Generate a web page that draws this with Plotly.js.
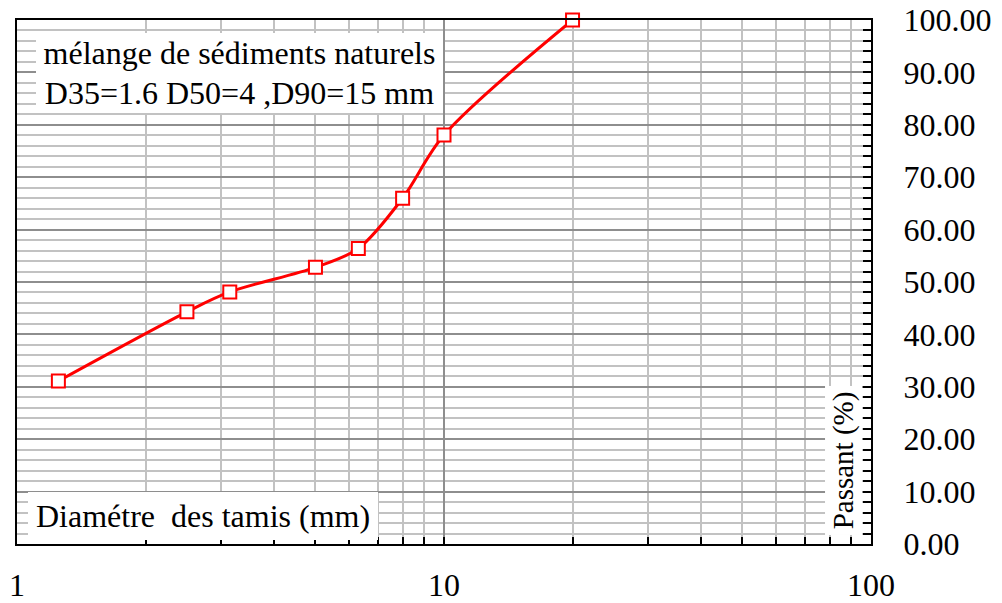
<!DOCTYPE html>
<html>
<head>
<meta charset="utf-8">
<script src="https://cdn.plot.ly/plotly-3.0.1.min.js"></script>
<style>html,body{margin:0;padding:0;background:#fff;}#chart{width:1002px;height:603px;}</style>
</head>
<body>
<div id="chart"></div>
<script>
// Sieve diameters (mm) and percent passing
const sieveSizes = [1.25, 2.5, 3.15, 5, 6.3, 8, 10, 20];
const passing = [31.1, 44.3, 48.1, 52.8, 56.4, 66.0, 78.05, 100];

const xMajorTicks = [1, 10, 100];
const xMinorTicks = [2, 3, 4, 5, 6, 7, 8, 9, 20, 30, 40, 50, 60, 70, 80, 90];

const infoLine1 = "mélange de sédiments naturels";
const infoLine2 = "D35=1.6 D50=4 ,D90=15 mm";
const xTitle = "Diamétre\u00a0 des tamis (mm)";
const yTitle = "Passant (%)";

const serif = "'Liberation Serif', 'Times New Roman', serif";
const majorGrid = "#8e8e8e";
const minorGrid = "#c2c2c2";

const trace = {
  x: sieveSizes,
  y: passing,
  type: "scatter",
  mode: "lines+markers",
  line: {color: "#ff0000", width: 3, shape: "spline", smoothing: 0.9},
  marker: {symbol: "square", size: 13, color: "#ffffff", line: {color: "#ff0000", width: 2}},
  hoverinfo: "skip",
  cliponaxis: false
};

const layout = {
  width: 1002,
  height: 603,
  margin: {l: 17, r: 131, t: 20, b: 59, pad: 0},
  paper_bgcolor: "#ffffff",
  plot_bgcolor: "#ffffff",
  showlegend: false,
  font: {family: serif, color: "#000000"},
  xaxis: {
    type: "log",
    range: [0, 2],
    tickmode: "array",
    tickvals: xMajorTicks,
    ticktext: xMajorTicks.map(String),
    ticks: "inside",
    ticklen: 7,
    tickwidth: 2,
    tickcolor: "#000000",
    ticklabelstandoff: 12,
    tickfont: {family: serif, size: 32, color: "#000000"},
    showgrid: true,
    gridcolor: majorGrid,
    gridwidth: 2,
    minor: {
      tickmode: "array",
      tickvals: xMinorTicks,
      ticks: "inside",
      ticklen: 7,
      tickwidth: 2,
      tickcolor: "#000000",
      showgrid: true,
      gridcolor: minorGrid,
      gridwidth: 2
    },
    showline: true,
    linecolor: "#000000",
    linewidth: 2,
    mirror: true,
    zeroline: false,
    fixedrange: true
  },
  yaxis: {
    side: "right",
    range: [0, 100],
    tickmode: "linear",
    tick0: 0,
    dtick: 10,
    tickformat: ".2f",
    ticks: "inside",
    ticklen: 8,
    tickwidth: 2,
    tickcolor: "#000000",
    ticklabelstandoff: 24,
    tickfont: {family: serif, size: 32, color: "#000000"},
    showgrid: true,
    gridcolor: majorGrid,
    gridwidth: 2,
    minor: {
      dtick: 2,
      ticks: "inside",
      ticklen: 8,
      tickwidth: 2,
      tickcolor: "#000000",
      showgrid: true,
      gridcolor: minorGrid,
      gridwidth: 2
    },
    showline: true,
    linecolor: "#000000",
    linewidth: 2,
    mirror: true,
    zeroline: false,
    fixedrange: true
  },
  annotations: [
    {
      text: infoLine1, xref: "paper", yref: "paper", x: 0.2606, y: 0.937,
      xanchor: "center", yanchor: "middle", showarrow: false,
      width: 407, height: 40, bgcolor: "#ffffff", borderpad: 0, borderwidth: 0,
      font: {family: serif, size: 32, color: "#000000"}
    },
    {
      text: infoLine2, xref: "paper", yref: "paper", x: 0.2606, y: 0.8607,
      xanchor: "center", yanchor: "middle", showarrow: false,
      width: 407, height: 40, bgcolor: "#ffffff", borderpad: 0, borderwidth: 0,
      font: {family: serif, size: 32, color: "#000000"}
    },
    {
      text: xTitle, xref: "paper", yref: "paper", x: 0.2178, y: 0.0534,
      xanchor: "center", yanchor: "middle", showarrow: false,
      width: 350, height: 48, bgcolor: "#ffffff", borderpad: 0, borderwidth: 0,
      font: {family: serif, size: 32, color: "#000000"}
    },
    {
      text: yTitle, xref: "paper", yref: "paper", x: 0.9678, y: 0.1594,
      xanchor: "center", yanchor: "middle", showarrow: false, textangle: -90,
      width: 149, height: 37, bgcolor: "#ffffff", borderpad: 0, borderwidth: 0,
      font: {family: serif, size: 29, color: "#000000"}
    }
  ]
};

Plotly.newPlot("chart", [trace], layout, {displayModeBar: false, staticPlot: true});
</script>
</body>
</html>
